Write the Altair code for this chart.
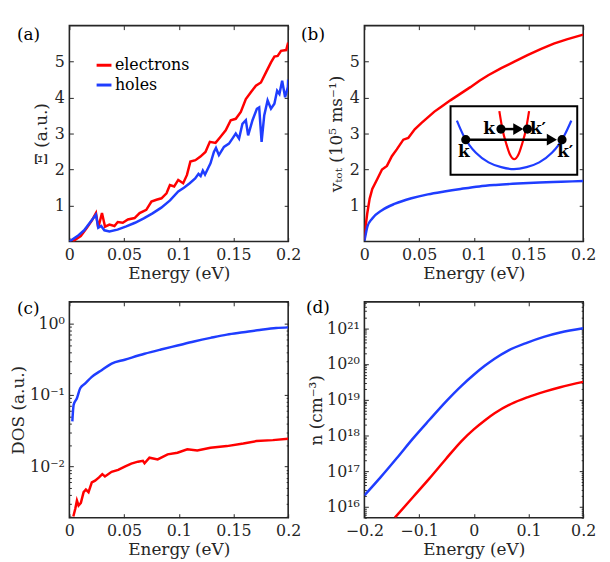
import altair as alt
import pandas as pd
import math

FONT = "DejaVu Serif"
AX = "#262626"
RED = "#ff0000"
BLUE = "#1f3dff"
W, H = 221, 218

# ---------------- data ----------------
a_elec_E = [0.003, 0.0104, 0.016, 0.0205, 0.0243, 0.0264, 0.0298, 0.0326, 0.0366, 0.0412, 0.0442, 0.0488,
            0.0535, 0.0596, 0.0642, 0.0703, 0.075, 0.0796, 0.0842, 0.0888, 0.0919, 0.0958, 0.0995, 0.104,
            0.1075, 0.1106, 0.1152, 0.1198, 0.1244, 0.1284, 0.1336, 0.1382, 0.1429, 0.1475, 0.1521, 0.1567,
            0.1613, 0.1659, 0.1705, 0.1751, 0.1797, 0.1843, 0.1874, 0.1904, 0.1935, 0.1982, 0.2]
a_elec_V = [0.0, 0.15, 0.38, 0.58, 0.79, 0.38, 0.79, 0.41, 0.47, 0.43, 0.54, 0.52,
            0.61, 0.65, 0.79, 0.88, 1.11, 1.16, 1.2, 1.34, 1.57, 1.53, 1.71, 1.62,
            1.85, 2.22, 2.26, 2.36, 2.49, 2.77, 2.74, 2.91, 3.09, 3.37, 3.41, 3.6,
            3.96, 4.15, 4.33, 4.42, 4.7, 4.98, 5.14, 5.16, 5.3, 5.32, 5.53]
a_hole_E = [0.0, 0.0074, 0.0135, 0.0197, 0.0243, 0.0264, 0.029, 0.032, 0.0366, 0.044, 0.052, 0.06,
            0.068, 0.076, 0.084, 0.092, 0.0995, 0.105, 0.11, 0.115, 0.118, 0.12, 0.122, 0.124, 0.127,
            0.129, 0.1321, 0.134, 0.1367, 0.1413, 0.1459, 0.149, 0.1521, 0.1551, 0.1582, 0.1613, 0.1634,
            0.1674, 0.1714, 0.1735, 0.1757, 0.1781, 0.1812, 0.1843, 0.1874, 0.1899, 0.192, 0.1945,
            0.1972, 0.1997, 0.2]
a_hole_V = [0.0, 0.15, 0.31, 0.56, 0.745, 0.38, 0.43, 0.31, 0.28, 0.33, 0.42, 0.52,
            0.64, 0.78, 0.94, 1.14, 1.39, 1.5, 1.62, 1.75, 1.88, 1.82, 1.97, 1.86, 2.05,
            2.17, 2.49, 2.6, 2.4, 2.63, 2.72, 2.86, 3.0, 2.86, 3.27, 3.37, 2.95,
            3.37, 3.69, 3.73, 2.77, 3.5, 3.92, 3.69, 3.83, 4.19, 4.1, 4.47,
            4.01, 4.29, 4.5]

b_elec_E = [0, 0.0012, 0.0027, 0.0048, 0.0072, 0.0117, 0.0161, 0.0206, 0.0251, 0.0296, 0.0356, 0.0401,
            0.046, 0.052, 0.058, 0.064, 0.07, 0.0789, 0.0879, 0.0969, 0.1052, 0.1132, 0.1251, 0.1371,
            0.1491, 0.1611, 0.1731, 0.185, 0.2]
b_elec_V = [0.05, 0.45, 0.8, 1.19, 1.46, 1.73, 2.0, 2.1, 2.37, 2.56, 2.83, 2.88,
            3.12, 3.29, 3.45, 3.61, 3.74, 3.93, 4.11, 4.29, 4.47, 4.62, 4.82, 5.0,
            5.18, 5.35, 5.5, 5.62, 5.75]
b_hole_E = [0, 0.0012, 0.0027, 0.0072, 0.0161, 0.0281, 0.043, 0.058, 0.073, 0.088, 0.105, 0.12,
            0.14, 0.16, 0.18, 0.2]
b_hole_V = [0.02, 0.2, 0.41, 0.64, 0.87, 1.05, 1.2, 1.31, 1.39, 1.46, 1.53, 1.57,
            1.61, 1.64, 1.66, 1.68]

c_hole_E = [0.0027, 0.0039, 0.0069, 0.0099, 0.0145, 0.0205, 0.0295, 0.0386, 0.0506, 0.0687, 0.0837,
            0.0988, 0.1139, 0.129, 0.144, 0.159, 0.174, 0.189, 0.2]
c_hole_V = [0.0428, 0.073, 0.09, 0.124, 0.145, 0.179, 0.222, 0.274, 0.311, 0.377, 0.432,
            0.491, 0.558, 0.627, 0.697, 0.751, 0.809, 0.862, 0.88]
c_elec_E = [0.0036, 0.0054, 0.0069, 0.0084, 0.0105, 0.013, 0.0151, 0.0175, 0.0205, 0.0235, 0.0271,
            0.0301, 0.0325, 0.0386, 0.0446, 0.0506, 0.0566, 0.0627, 0.0672, 0.0687, 0.0732, 0.0807,
            0.0898, 0.0988, 0.1078, 0.1169, 0.129, 0.144, 0.159, 0.171, 0.186, 0.2]
c_elec_V = [0.002, 0.00257, 0.00335, 0.00286, 0.00311, 0.00438, 0.00476, 0.00438, 0.006, 0.00634, 0.00705,
            0.00784, 0.00728, 0.00843, 0.009, 0.01, 0.011, 0.0117, 0.012, 0.0111, 0.0133, 0.0126,
            0.0148, 0.0156, 0.0174, 0.0168, 0.0183, 0.0193, 0.021, 0.0227, 0.0234, 0.0244]

d_hole_E = [-0.2, -0.171, -0.141, -0.111, -0.081, -0.051, -0.022, 0.0, 0.02, 0.038, 0.062, 0.098,
            0.128, 0.158, 0.2]
d_hole_V = [2.1e16, 6.6e16, 2.3e17, 8.3e17, 2.75e18, 8.9e18, 2.5e19, 5.0e19, 8.9e19, 1.41e20, 2.34e20,
            3.98e20, 5.75e20, 7.6e20, 1.0e21]
d_elec_E = [-0.1443, -0.111, -0.081, -0.051, -0.022, 0.0, 0.02, 0.038, 0.068, 0.098, 0.128, 0.158, 0.2]
d_elec_V = [5.0e15, 1.9e16, 6.3e16, 2.2e17, 7.1e17, 1.48e18, 2.63e18, 4.17e18, 7.6e18, 1.17e19, 1.66e19,
            2.24e19, 3.16e19]

inset_blue_u = [0.05, 0.1, 0.15, 0.2, 0.3, 0.4, 0.5, 0.6, 0.7, 0.8, 0.85, 0.9, 0.953]
inset_blue_v = [0.79, 0.58, 0.43, 0.32, 0.18, 0.11, 0.08, 0.11, 0.18, 0.32, 0.43, 0.58, 0.79]
inset_red_u = [0.385, 0.41, 0.44, 0.47, 0.503, 0.535, 0.565, 0.595, 0.62]
inset_red_v = [0.93, 0.66, 0.45, 0.29, 0.225, 0.29, 0.45, 0.66, 0.93]
inset_dot_u = [0.12, 0.88, 0.398, 0.607]
inset_dot_v = [0.512, 0.512, 0.667, 0.667]
inset_arrow_u0 = [0.12, 0.398]
inset_arrow_u1 = [0.80, 0.535]
inset_arrow_v = [0.512, 0.667]
inset_text = ["k", "k′", "k", "k′"]
inset_text_u = [0.105, 0.905, 0.305, 0.69]
inset_text_v = [0.33, 0.33, 0.667, 0.667]

lin_x_ticks = [0, 0.05, 0.1, 0.15, 0.2]
d_x_ticks = [-0.2, -0.1, 0, 0.1, 0.2]
lin_y_ticks = [1, 2, 3, 4, 5]
c_major = [0.01, 0.1, 1.0]
c_minor = [0.002, 0.003, 0.004, 0.005, 0.006, 0.007, 0.008, 0.009,
           0.02, 0.03, 0.04, 0.05, 0.06, 0.07, 0.08, 0.09,
           0.2, 0.3, 0.4, 0.5, 0.6, 0.7, 0.8, 0.9, 2.0]
d_major = [1e16, 1e17, 1e18, 1e19, 1e20, 1e21]
d_minor = [m * 10.0 ** k for k in range(15, 22) for m in range(2, 10)]
d_minor = [v for v in d_minor if 5e15 <= v <= 5.5e21]

SUP = str.maketrans("0123456789-", "⁰¹²³⁴⁵⁶⁷⁸⁹⁻")
MAJOR_TEST = "abs(log(datum.value)/LN10 - round(log(datum.value)/LN10)) < 0.001"


def log_label_expr(majors):
    parts = []
    for v in majors:
        k = round(math.log10(v))
        parts.append(f"abs(log(datum.value)/LN10 - ({k})) < 0.01 ? '10{str(k).translate(SUP)}' : ")
    return "".join(parts) + "''"


def panel(series, xdom, ydom, ylog, xvals, yvals, ytitle, label, lab_xy,
          yminor=None, ylabexpr=None, xtitle="Energy (eV)", extra=None, ytp=4):
    xs = alt.Scale(domain=xdom, nice=False, zero=False)
    if ylog:
        ys = alt.Scale(type="log", domain=ydom, nice=False)
    else:
        ys = alt.Scale(domain=ydom, nice=False, zero=False)
    g = pd.DataFrame({"x": [xdom[0]], "y": [ydom[0]]})
    base = alt.Chart(g).mark_point(opacity=0)

    common = dict(ticks=False, domain=False, grid=False, labelFlush=False, labelFont=FONT, titleFont=FONT,
                  labelFontSize=16, titleFontSize=17, labelColor=AX, titleColor=AX,
                  titleFontWeight="normal", labelFontWeight="normal", labelPadding=5)
    yaxis_kw = dict(values=yvals, title=ytitle, titlePadding=ytp, **common)
    if ylabexpr:
        yaxis_kw["labelExpr"] = ylabexpr
    main = base.encode(
        x=alt.X("x:Q", scale=xs, axis=alt.Axis(values=xvals, format="~g", title=xtitle, titlePadding=3,
                                                **common)),
        y=alt.Y("y:Q", scale=ys, axis=alt.Axis(**yaxis_kw)),
    )
    ytick_vals = yvals + (yminor or [])
    ysize = {"condition": {"test": MAJOR_TEST, "value": 4}, "value": 2} if ylog else 4

    def tick_ax(orient, off, vals, size):
        return alt.Axis(orient=orient, offset=off, values=vals, labels=False, domain=False, ticks=True,
                        tickSize=size, tickColor=AX, tickWidth=1, grid=False, title=None)

    tA = base.encode(x=alt.X("x:Q", scale=xs, axis=tick_ax("top", -H, xvals, 4)),
                     y=alt.Y("y:Q", scale=ys, axis=tick_ax("right", -W, ytick_vals, ysize)))
    tB = base.encode(x=alt.X("x:Q", scale=xs, axis=tick_ax("bottom", -H, xvals, 4)),
                     y=alt.Y("y:Q", scale=ys, axis=tick_ax("left", -W, ytick_vals, ysize)))

    layers = [main, tA, tB]
    for df, col, interp in series:
        if col is None:
            ch = alt.Chart(df).mark_line(strokeWidth=2.5, clip=True, interpolate=interp).encode(
                x=alt.X("x:Q", scale=xs, axis=None), y=alt.Y("y:Q", scale=ys, axis=None),
                color=alt.Color("s:N", scale=alt.Scale(domain=["electrons", "holes"], range=[RED, BLUE]),
                                legend=alt.Legend(orient="none", legendX=26, legendY=31,
                                                  title=None, symbolType="stroke",
                                                  symbolSize=225, symbolStrokeWidth=3,
                                                  labelFont=FONT, labelFontSize=16,
                                                  labelColor="black",
                                                  labelOffset=2, rowPadding=3, padding=0)))
        else:
            ch = alt.Chart(df).mark_line(strokeWidth=2.5, clip=True, color=col, interpolate=interp).encode(
                x=alt.X("x:Q", scale=xs, axis=None), y=alt.Y("y:Q", scale=ys, axis=None))
        layers.append(ch)
    lab = alt.Chart(pd.DataFrame({"t": [label]})).mark_text(
        align="left", baseline="middle", font=FONT, fontSize=17, color="black"
    ).encode(text="t:N", x=alt.value(lab_xy[0]), y=alt.value(lab_xy[1]))
    layers.append(lab)
    ch = alt.layer(*layers).resolve_axis(x="independent", y="independent")
    if extra is not None:
        ch = alt.layer(ch, extra).resolve_scale(x="independent", y="independent")
    return ch.properties(width=W, height=H)


def df_xy(xs, ys, s=None):
    d = pd.DataFrame({"x": xs, "y": ys})
    if s is not None:
        d["s"] = s
    return d


a_df = pd.concat([df_xy(a_elec_E, a_elec_V, "electrons"), df_xy(a_hole_E, a_hole_V, "holes")])
pa = panel([(a_df, None, "linear")], [0, 0.2], [0, 6], False, lin_x_ticks, lin_y_ticks,
           "Ξ (a.u.)", "(a)", (-53, 9))

iu = alt.Scale(domain=[-0.680, 1.047], nice=False, zero=False)
iv = alt.Scale(domain=[-0.978, 2.181], nice=False, zero=False)
IX = lambda f: alt.X(f, scale=iu, axis=None)
IY = lambda f: alt.Y(f, scale=iv, axis=None)
box = alt.Chart(pd.DataFrame({"u0": [0], "u1": [1], "v0": [0], "v1": [1]})).mark_rect(
    fill="white", stroke="black", strokeWidth=2).encode(x=IX("u0:Q"), x2="u1:Q", y=IY("v0:Q"), y2="v1:Q")
ib = alt.Chart(df_xy(inset_blue_u, inset_blue_v)).mark_line(color=BLUE, strokeWidth=2.2,
                                                            interpolate="monotone").encode(
    x=IX("x:Q"), y=IY("y:Q"))
ir = alt.Chart(df_xy(inset_red_u, inset_red_v)).mark_line(color=RED, strokeWidth=2.2,
                                                          interpolate="monotone").encode(
    x=IX("x:Q"), y=IY("y:Q"))
arr_df = pd.DataFrame({"u0": inset_arrow_u0, "u1": inset_arrow_u1, "v": inset_arrow_v})
arr = alt.Chart(arr_df).mark_rule(color="black", strokeWidth=2.5).encode(
    x=IX("u0:Q"), x2="u1:Q", y=IY("v:Q"))
heads = alt.Chart(arr_df).mark_point(shape="triangle-right", filled=True, color="black", size=140,
                                     opacity=1).encode(x=IX("u1:Q"), y=IY("v:Q"))
dots = alt.Chart(df_xy(inset_dot_u, inset_dot_v)).mark_circle(color="black", size=85, opacity=1).encode(
    x=IX("x:Q"), y=IY("y:Q"))
ktxt = alt.Chart(pd.DataFrame({"x": inset_text_u, "y": inset_text_v, "t": inset_text})).mark_text(
    font=FONT, fontSize=17, fontWeight="bold", color="black", baseline="middle", align="center").encode(
    x=IX("x:Q"), y=IY("y:Q"), text="t:N")
inset = alt.layer(box, ib, ir, arr, heads, dots, ktxt)

pb = panel([(df_xy(b_elec_E, b_elec_V), RED, "linear"), (df_xy(b_hole_E, b_hole_V), BLUE, "monotone")],
           [0, 0.2], [0, 6], False, lin_x_ticks, lin_y_ticks,
           "vₜₒₜ (10⁵ ms⁻¹)", "(b)", (-64, 9), extra=inset)

pc = panel([(df_xy(c_hole_E, c_hole_V), BLUE, "monotone"), (df_xy(c_elec_E, c_elec_V), RED, "linear")],
           [0, 0.2], [0.00193, 2.0], True, lin_x_ticks, c_major,
           "DOS (a.u.)", "(c)", (-53, 7), yminor=c_minor, ylabexpr=log_label_expr(c_major), ytp=2)

pd_ = panel([(df_xy(d_hole_E, d_hole_V), BLUE, "monotone"), (df_xy(d_elec_E, d_elec_V), RED, "monotone")],
            [-0.2, 0.2], [5.0e15, 5.5e21], True, d_x_ticks, d_major,
            "n (cm⁻³)", "(d)", (-59, 6), yminor=d_minor, ylabexpr=log_label_expr(d_major), ytp=1)

chart = alt.concat(pa, pb, pc, pd_, columns=2, spacing={"row": 61, "column": 77}, bounds="flush").resolve_scale(
    color="independent"
).properties(
    padding={"left": 0, "top": 13, "right": 5, "bottom": 5}
).configure_view(stroke=AX, strokeWidth=1.6)

chart.save("out.html", embed_options={"renderer": "svg", "actions": False})
